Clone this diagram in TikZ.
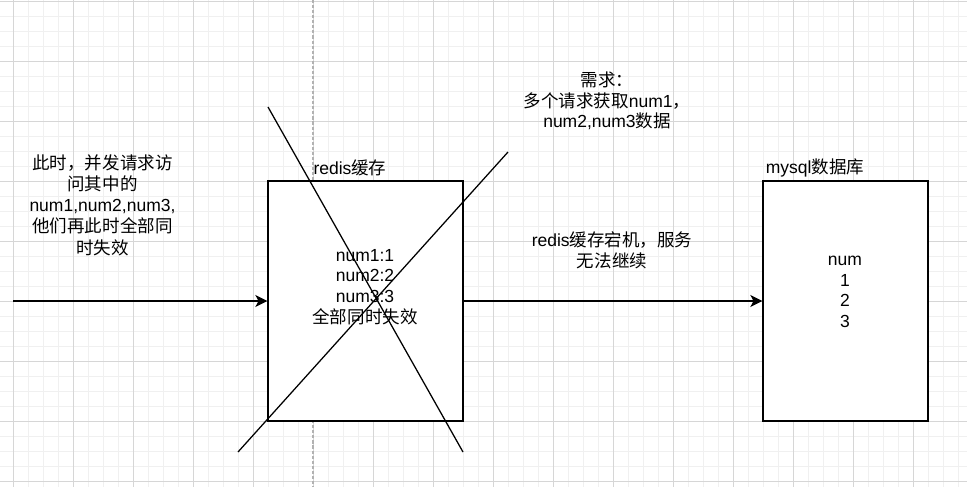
\documentclass[tikz,border=0pt]{standalone}
\usepackage{fontspec}
\setmainfont{Liberation Sans}
\newfontfamily\cjk{Noto Sans CJK SC}
\newcommand{\zh}[1]{{\cjk #1}}
\usetikzlibrary{arrows.meta}

\begin{document}
\begin{tikzpicture}[x=0.025cm, y=-0.025cm]
  \tikzset{box/.style={draw, line width=0.9pt, fill=white, inner sep=0},
    txt/.style={align=center, inner sep=0,
      font=\fontsize{12.45}{14.7}\selectfont},
    arr/.style={line width=1pt,
      -{Stealth[length=0.3cm, width=0.3cm, inset=0.08cm]}},
    minor/.style={black!6, line width=0.6pt},
    major/.style={black!16, line width=0.7pt}}

  \useasboundingbox[fill=white] (0,0) rectangle (967,487);

  % grid of the canvas
  \foreach \x in {-2,13,...,967} \draw[minor] (\x,0) -- (\x,487);
  \foreach \y in {1,16,...,487} \draw[minor] (0,\y) -- (967,\y);
  \foreach \x in {13,73,...,967} \draw[major] (\x,0) -- (\x,487);
  \foreach \y in {1,61,...,487} \draw[major] (0,\y) -- (967,\y);
  \draw[black!30, line width=0.8pt, dash pattern=on 2.2pt off 1.4pt]
    (313,0) -- (313,487);

  \node[box, minimum width=4.875cm, minimum height=6cm] (redis) at (365.5,301) {};
  \node[box, minimum width=4.125cm, minimum height=6cm] (mysql) at (845.5,301) {};

  \node[txt] (redislbl) at (350,168) {redis\zh{缓存}};
  \node[txt] (mysqllbl) at (815,168) {mysql\zh{数据库}};

  \node[txt] (cache) at (365,287) {num1:1\\num2:2\\num3:3\\\zh{全部同时失效}};
  \node[txt] (table) at (845,292) {num\\1\\2\\3};

  \node[txt, font=\fontsize{12.45}{15.1}\selectfont] (reqs) at (102.5,205)
    {\zh{此时，并发请求访}\\\zh{问其中的}\\num1,num2,num3,\\
     \zh{他们再此时全部同}\\\zh{时失效}};
  \node[txt] (need) at (607,101) {\zh{需求：}\\\zh{多个请求获取}num1\zh{，}\\
    num2,num3\zh{数据}};
  \node[txt] (down) at (612,250) {redis\zh{缓存宕机，服务}\\\zh{无法继续}};

  % the cache is crossed out
  \coordinate (x1) at (268,107);
  \coordinate (x2) at (463,452);
  \coordinate (x3) at (238,452);
  \coordinate (x4) at (508,152);
  \draw[line width=0.9pt] (x1) -- (x2);
  \draw[line width=0.9pt] (x3) -- (x4);

  \coordinate (src) at (13,301);
  \draw[arr] (src) -- (redis.west);
  \draw[arr] (redis.east) -- (mysql.west);
\end{tikzpicture}
\end{document}
